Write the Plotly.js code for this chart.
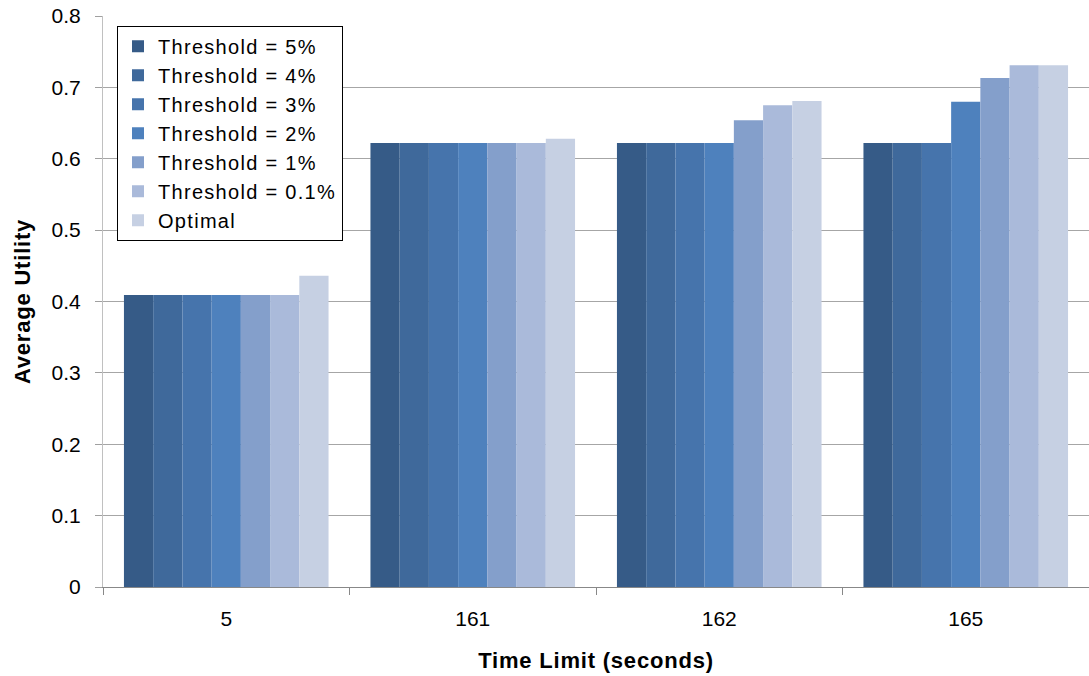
<!DOCTYPE html>
<html><head><meta charset="utf-8">
<script src="https://cdn.plot.ly/plotly-3.0.1.min.js"></script>
<style>html,body{margin:0;padding:0;background:#fff}#chart{width:1089px;height:676px}
.legendtext{letter-spacing:1.3px}
.xtitle,.ytitle{letter-spacing:0.8px}
</style>
</head><body><div id="chart"></div>
<script>
const categories = ["5", "161", "162", "165"];
const seriesNames = ["Threshold = 5%", "Threshold = 4%", "Threshold = 3%", "Threshold = 2%", "Threshold = 1%", "Threshold = 0.1%", "Optimal"];
const thr5  = [0.409, 0.622, 0.622, 0.622];
const thr4  = [0.409, 0.622, 0.622, 0.622];
const thr3  = [0.409, 0.622, 0.622, 0.622];
const thr2  = [0.409, 0.622, 0.622, 0.680];
const thr1  = [0.409, 0.622, 0.654, 0.713];
const thr01 = [0.409, 0.622, 0.675, 0.731];
const optimal = [0.436, 0.628, 0.681, 0.731];
const seriesValues = [thr5, thr4, thr3, thr2, thr1, thr01, optimal];
const colors = ["#365B87", "#3F699B", "#4674AC", "#4E81BD", "#849FCB", "#AABADA", "#C6D0E3"];

const traces = seriesNames.map((n, i) => ({
  type: "bar", name: n, x: categories, y: seriesValues[i],
  marker: {color: colors[i], line: {width: 0}}
}));

const layout = {
  width: 1089, height: 676,
  margin: {l: 103, r: 0, t: 16, b: 89},
  paper_bgcolor: "#fff", plot_bgcolor: "#fff",
  font: {family: "Liberation Sans, Arial, sans-serif", size: 21, color: "#000"},
  barmode: "group", bargap: 0.17, bargroupgap: 0,
  xaxis: {
    type: "category", tickson: "boundaries", ticks: "outside", ticklen: 7, tickcolor: "#888",
    showline: true, linecolor: "#888", linewidth: 1, showgrid: false,
    tickfont: {size: 21}, zeroline: false, ticklabelstandoff: 13,
    title: {text: "<b>Time Limit (seconds)</b>", font: {size: 22}, standoff: 23}
  },
  yaxis: {
    range: [0, 0.8], dtick: 0.1, showgrid: true, gridcolor: "#a6a6a6", gridwidth: 1,
    showline: true, linecolor: "#c0c0c0", ticks: "outside", ticklen: 7, tickcolor: "#a0a0a0",
    zeroline: false, tickfont: {size: 21}, ticklabelstandoff: 10,
    title: {text: "<b>Average Utility</b>", font: {size: 22}, standoff: 14}
  },
  legend: {
    x: 0.0142, y: 0.9828, xanchor: "left", yanchor: "top",
    bgcolor: "#fff", bordercolor: "#000", borderwidth: 1,
    font: {size: 20}, tracegroupgap: 0, traceorder: "normal", itemwidth: 30
  },
  showlegend: true
};
Plotly.newPlot("chart", traces, layout, {displayModeBar: false, staticPlot: true});
</script></body></html>
